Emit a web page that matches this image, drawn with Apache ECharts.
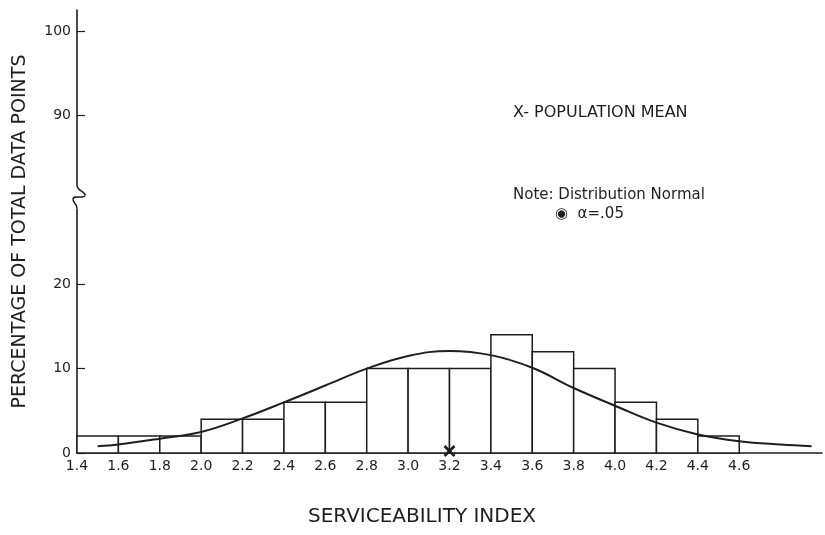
<!DOCTYPE html>
<html>
<head>
<meta charset="utf-8">
<script src="https://cdn.jsdelivr.net/npm/echarts@6/dist/echarts.min.js"></script>
<style>
  html, body { margin: 0; padding: 0; background: #fff; }
  #chart { width: 825px; height: 535px; }
</style>
</head>
<body>
<div id="chart"></div>
<script>
  // histogram bins (serviceability index) and their share of data points
  var binStart = [1.4, 1.6, 1.8, 2.0, 2.2, 2.4, 2.6, 2.8, 3.0, 3.2, 3.4, 3.6, 3.8, 4.0, 4.2, 4.4]
  var binEnd = [1.6, 1.8, 2.0, 2.2, 2.4, 2.6, 2.8, 3.0, 3.2, 3.4, 3.6, 3.8, 4.0, 4.2, 4.4, 4.6]
  var percent = [2, 2, 2, 4, 4, 6, 6, 10, 10, 10, 14, 12, 10, 6, 4, 2]

  // fitted normal curve
  var curveX = [1.5, 1.6, 1.8, 2.0, 2.2, 2.4, 2.6, 2.8, 3.0, 3.2, 3.4, 3.6, 3.8, 4.0, 4.2, 4.4, 4.6, 4.8, 4.95]
  var curveY = [0.8, 1.0, 1.7, 2.5, 4.1, 6.0, 8.0, 10.0, 11.5, 12.1, 11.6, 10.1, 7.7, 5.6, 3.6, 2.2, 1.4, 1.0, 0.8]

  var meanX = 3.2

  // y axis is broken between 20 and 90: the upper part is drawn 50 lower
  var yTickValues = [0, 10, 20, 40, 50]
  var yTickLabels = { 0: '0', 10: '10', 20: '20', 40: '90', 50: '100' }
  var breakValue = 30.3
  var lastXLabel = 4.6

  var ink = '#1e1e1e'
  var font = 'DejaVu Sans'

  var chart = echarts.init(document.getElementById('chart'))

  var bins = binStart.map(function (s, i) {
    return [s, binEnd[i], percent[i]]
  })
  var curve = curveX.map(function (x, i) {
    return [x, curveY[i]]
  })

  chart.setOption({
    animation: false,
    grid: { left: 77, right: 0, top: 10, bottom: 82 },
    xAxis: {
      type: 'value',
      min: 1.4,
      max: 5.0,
      interval: 0.2,
      splitLine: { show: false },
      axisTick: { show: false },
      axisLine: { lineStyle: { color: ink, width: 1.6 } },
      axisLabel: {
        color: ink,
        fontFamily: font,
        fontSize: 14,
        margin: 6,
        formatter: function (v) {
          return v > lastXLabel + 0.01 ? '' : v.toFixed(1)
        }
      }
    },
    yAxis: {
      type: 'value',
      min: 0,
      max: 52.5,
      interval: 10,
      splitLine: { show: false },
      axisLine: { show: true, lineStyle: { color: ink, width: 1.6 } },
      axisTick: {
        show: true, inside: true, length: 8,
        customValues: yTickValues,
        lineStyle: { color: ink, width: 1.2 }
      },
      axisLabel: {
        color: ink,
        fontFamily: font,
        fontSize: 14,
        margin: 6,
        customValues: yTickValues,
        formatter: function (v) {
          return yTickLabels[v] || ''
        }
      },
      name: 'PERCENTAGE OF TOTAL DATA POINTS',
      nameLocation: 'middle',
      nameGap: 47,
      nameTextStyle: { color: ink, fontFamily: font, fontSize: 19 }
    },
    graphic: [
      { type: 'text', left: 513, top: 105, style: { text: 'X- POPULATION MEAN', fill: ink, font: '16px ' + font } },
      { type: 'text', left: 513, top: 188, style: { text: 'Note: Distribution Normal', fill: ink, font: '15px ' + font } },
      { type: 'text', left: 555, top: 207, style: { text: '\u25C9  \u03B1=.05', fill: ink, font: '15px ' + font } },
      { type: 'text', left: 308, top: 507, style: { text: 'SERVICEABILITY INDEX', fill: ink, font: '20px ' + font } }
    ],
    series: [
      {
        type: 'custom',
        name: 'bins',
        data: bins,
        encode: { x: [0, 1], y: 2 },
        renderItem: function (params, api) {
          var p0 = api.coord([api.value(0), 0])
          var p1 = api.coord([api.value(1), api.value(2)])
          return {
            type: 'rect',
            shape: { x: p0[0], y: p1[1], width: p1[0] - p0[0], height: p0[1] - p1[1] },
            style: { fill: '#fff', stroke: ink, lineWidth: 1.5 }
          }
        },
        z: 3
      },
      {
        type: 'line',
        name: 'normal',
        data: curve,
        smooth: 0.4,
        showSymbol: false,
        lineStyle: { color: ink, width: 2 },
        z: 4
      },
      {
        // mean marker on the axis
        type: 'custom',
        data: [[meanX, 0]],
        renderItem: function (params, api) {
          var c = api.coord([api.value(0), api.value(1)])
          var s = 5
          var y = c[1] - 2
          var st = { stroke: ink, lineWidth: 2.6 }
          return {
            type: 'group',
            children: [
              { type: 'line', shape: { x1: c[0] - s, y1: y - s, x2: c[0] + s, y2: y + s }, style: st },
              { type: 'line', shape: { x1: c[0] + s, y1: y - s, x2: c[0] - s, y2: y + s }, style: st }
            ]
          }
        },
        z: 5
      },
      {
        // squiggle marking the axis break
        type: 'custom',
        data: [[1.4, breakValue]],
        renderItem: function (params, api) {
          var c = api.coord([api.value(0), api.value(1)])
          var x = c[0], y = c[1]
          var st = { stroke: ink, lineWidth: 1.6, fill: null }
          return {
            type: 'group',
            children: [
              { type: 'rect', shape: { x: x - 9, y: y - 12, width: 22, height: 23 }, style: { fill: '#fff' } },
              { type: 'bezierCurve', shape: { x1: x, y1: y - 12, cpx1: x, cpy1: y - 6, cpx2: x + 9, cpy2: y - 6, x2: x + 8, y2: y - 2 }, style: st },
              { type: 'bezierCurve', shape: { x1: x + 8, y1: y - 2, cpx1: x + 7, cpy1: y + 2, cpx2: x - 4, cpy2: y - 3, x2: x - 4, y2: y + 2 }, style: st },
              { type: 'bezierCurve', shape: { x1: x - 4, y1: y + 2, cpx1: x - 4, cpy1: y + 6, cpx2: x, cpy2: y + 6, x2: x, y2: y + 11 }, style: st }
            ]
          }
        },
        z: 6
      }
    ]
  })
</script>
</body>
</html>
